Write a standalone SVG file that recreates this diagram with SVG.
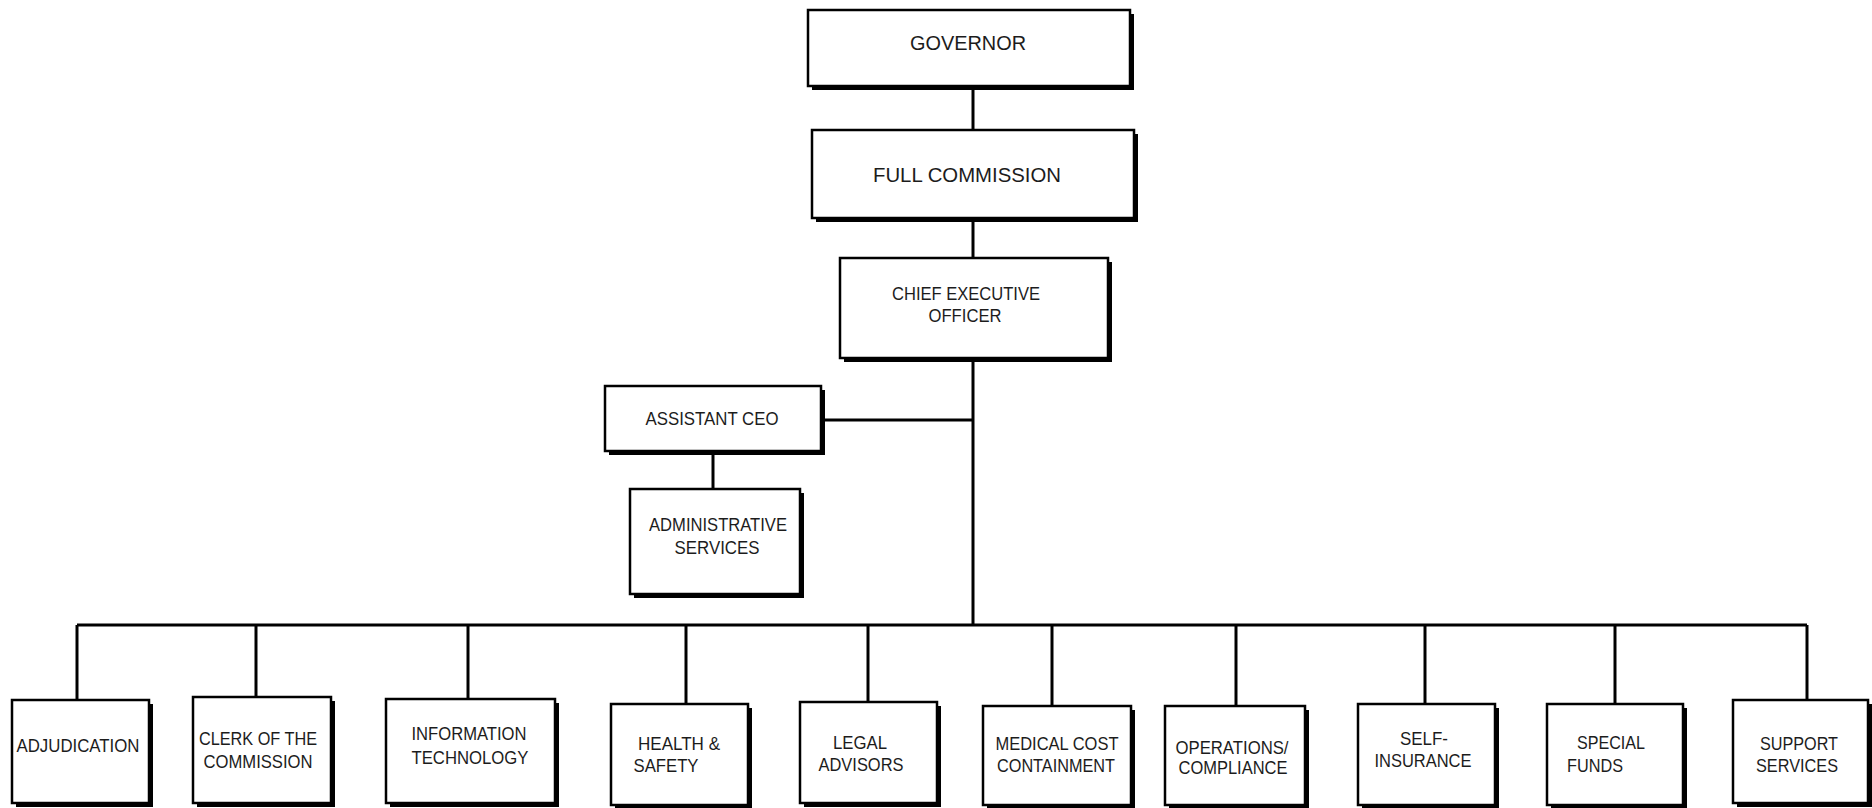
<svg xmlns="http://www.w3.org/2000/svg" width="1872" height="808" viewBox="0 0 1872 808">
<style>
.bg{fill:#ffffff}
.sh{fill:#000000}
.bx{fill:#ffffff;stroke:#000000;stroke-width:2.5}
.ln{stroke:#000000;stroke-width:3;fill:none}
text{font-family:"Liberation Sans",Arial,sans-serif;fill:#1c1c1c;text-anchor:middle}
.t1{font-size:21px}
.t2{font-size:19px}
</style>
<rect class="bg" x="0" y="0" width="1872" height="808"/>
<g id="connectors">
<path class="ln" d="M973 86V130"/>
<path class="ln" d="M973 218V258"/>
<path class="ln" d="M973 358V625"/>
<path class="ln" d="M821 420H973"/>
<path class="ln" d="M713 451V489"/>
<path class="ln" d="M77 625H1807"/>
<path class="ln" d="M77 625V700"/>
<path class="ln" d="M256 625V697"/>
<path class="ln" d="M468 625V699"/>
<path class="ln" d="M686 625V704"/>
<path class="ln" d="M868 625V702"/>
<path class="ln" d="M1052 625V706"/>
<path class="ln" d="M1236 625V706"/>
<path class="ln" d="M1425 625V704"/>
<path class="ln" d="M1615 625V704"/>
<path class="ln" d="M1807 625V700"/>
</g>
<g id="governor">
<rect class="sh" x="812" y="14" width="322" height="76"/>
<rect class="bx" x="808" y="10" width="322" height="76"/>
<text class="t1" x="968" y="50" textLength="116" lengthAdjust="spacingAndGlyphs">GOVERNOR</text>
</g>
<g id="full-commission">
<rect class="sh" x="816" y="134" width="322" height="88"/>
<rect class="bx" x="812" y="130" width="322" height="88"/>
<text class="t1" x="967" y="182" textLength="188" lengthAdjust="spacingAndGlyphs">FULL COMMISSION</text>
</g>
<g id="ceo">
<rect class="sh" x="844" y="262" width="268" height="100"/>
<rect class="bx" x="840" y="258" width="268" height="100"/>
<text class="t2" x="966" y="300" textLength="148" lengthAdjust="spacingAndGlyphs">CHIEF EXECUTIVE</text>
<text class="t2" x="965" y="322" textLength="73" lengthAdjust="spacingAndGlyphs">OFFICER</text>
</g>
<g id="assistant-ceo">
<rect class="sh" x="609" y="390" width="216" height="65"/>
<rect class="bx" x="605" y="386" width="216" height="65"/>
<text class="t2" x="712" y="425" textLength="133" lengthAdjust="spacingAndGlyphs">ASSISTANT CEO</text>
</g>
<g id="administrative-services">
<rect class="sh" x="634" y="493" width="170" height="105"/>
<rect class="bx" x="630" y="489" width="170" height="105"/>
<text class="t2" x="718" y="531" textLength="138" lengthAdjust="spacingAndGlyphs">ADMINISTRATIVE</text>
<text class="t2" x="717" y="554" textLength="85" lengthAdjust="spacingAndGlyphs">SERVICES</text>
</g>
<g id="adjudication">
<rect class="sh" x="16" y="704" width="137" height="103"/>
<rect class="bx" x="12" y="700" width="137" height="103"/>
<text class="t2" x="78" y="752" textLength="123" lengthAdjust="spacingAndGlyphs">ADJUDICATION</text>
</g>
<g id="clerk">
<rect class="sh" x="197" y="701" width="138" height="106"/>
<rect class="bx" x="193" y="697" width="138" height="106"/>
<text class="t2" x="258" y="745" textLength="118" lengthAdjust="spacingAndGlyphs">CLERK OF THE</text>
<text class="t2" x="258" y="768" textLength="109" lengthAdjust="spacingAndGlyphs">COMMISSION</text>
</g>
<g id="information-technology">
<rect class="sh" x="390" y="703" width="169" height="104"/>
<rect class="bx" x="386" y="699" width="169" height="104"/>
<text class="t2" x="469" y="740" textLength="115" lengthAdjust="spacingAndGlyphs">INFORMATION</text>
<text class="t2" x="470" y="764" textLength="117" lengthAdjust="spacingAndGlyphs">TECHNOLOGY</text>
</g>
<g id="health-safety">
<rect class="sh" x="615" y="708" width="137" height="101"/>
<rect class="bx" x="611" y="704" width="137" height="101"/>
<text class="t2" x="679" y="750" textLength="82" lengthAdjust="spacingAndGlyphs">HEALTH &amp;</text>
<text class="t2" x="666" y="772" textLength="65" lengthAdjust="spacingAndGlyphs">SAFETY</text>
</g>
<g id="legal-advisors">
<rect class="sh" x="804" y="706" width="137" height="101"/>
<rect class="bx" x="800" y="702" width="137" height="101"/>
<text class="t2" x="860" y="749" textLength="54" lengthAdjust="spacingAndGlyphs">LEGAL</text>
<text class="t2" x="861" y="771" textLength="85" lengthAdjust="spacingAndGlyphs">ADVISORS</text>
</g>
<g id="medical-cost">
<rect class="sh" x="987" y="710" width="148" height="99"/>
<rect class="bx" x="983" y="706" width="148" height="99"/>
<text class="t2" x="1057" y="750" textLength="123" lengthAdjust="spacingAndGlyphs">MEDICAL COST</text>
<text class="t2" x="1056" y="772" textLength="118" lengthAdjust="spacingAndGlyphs">CONTAINMENT</text>
</g>
<g id="operations-compliance">
<rect class="sh" x="1169" y="710" width="140" height="99"/>
<rect class="bx" x="1165" y="706" width="140" height="99"/>
<text class="t2" x="1232" y="754" textLength="113" lengthAdjust="spacingAndGlyphs">OPERATIONS/</text>
<text class="t2" x="1233" y="774" textLength="109" lengthAdjust="spacingAndGlyphs">COMPLIANCE</text>
</g>
<g id="self-insurance">
<rect class="sh" x="1362" y="708" width="137" height="101"/>
<rect class="bx" x="1358" y="704" width="137" height="101"/>
<text class="t2" x="1424" y="745" textLength="48" lengthAdjust="spacingAndGlyphs">SELF-</text>
<text class="t2" x="1423" y="767" textLength="97" lengthAdjust="spacingAndGlyphs">INSURANCE</text>
</g>
<g id="special-funds">
<rect class="sh" x="1551" y="708" width="136" height="101"/>
<rect class="bx" x="1547" y="704" width="136" height="101"/>
<text class="t2" x="1611" y="749" textLength="68" lengthAdjust="spacingAndGlyphs">SPECIAL</text>
<text class="t2" x="1595" y="772" textLength="56" lengthAdjust="spacingAndGlyphs">FUNDS</text>
</g>
<g id="support-services">
<rect class="sh" x="1737" y="704" width="135" height="103"/>
<rect class="bx" x="1733" y="700" width="135" height="103"/>
<text class="t2" x="1799" y="750" textLength="78" lengthAdjust="spacingAndGlyphs">SUPPORT</text>
<text class="t2" x="1797" y="772" textLength="82" lengthAdjust="spacingAndGlyphs">SERVICES</text>
</g>
</svg>
